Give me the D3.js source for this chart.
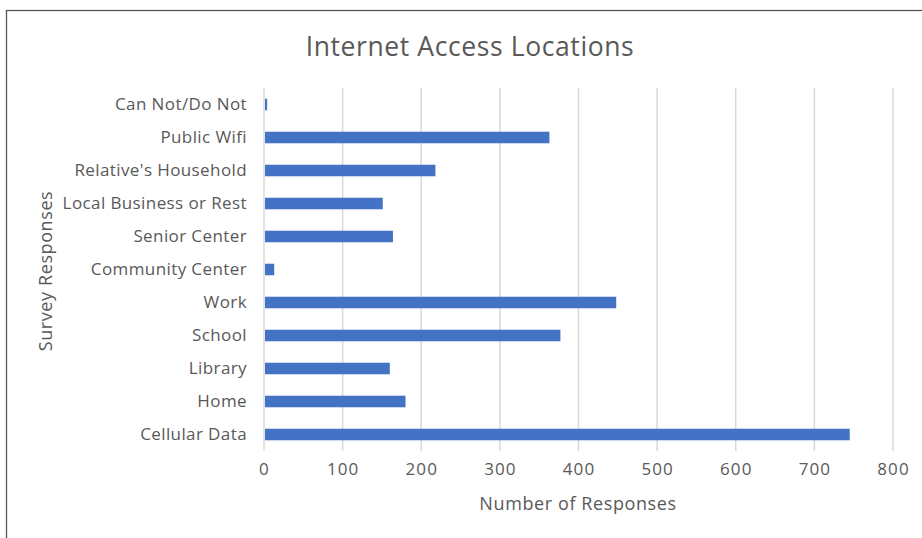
<!DOCTYPE html>
<html><head><meta charset="utf-8">
<script src="https://cdn.jsdelivr.net/npm/d3@7"></script>
<style>body{margin:0;background:#fff}svg{display:block}</style>
</head><body>
<svg id="c" width="922" height="538"></svg>
<script>
const categories = ["Can Not/Do Not","Public Wifi","Relative's Household","Local Business or Rest","Senior Center","Community Center","Work","School","Library","Home","Cellular Data"];
const values = [4,363,218,151,164,13,448,377,160,180,745];
const xTicks = [0,100,200,300,400,500,600,700,800];
const title = "Internet Access Locations";
const xTitle = "Number of Responses";
const yTitle = "Survey Responses";

const svg = d3.select("#c");
const font = "'Open Sans', sans-serif";
const textColor = "#595959";
svg.append("rect").attr("x",6.5).attr("y",10.5).attr("width",930).attr("height",540)
  .attr("fill","#fff").attr("stroke","#555").attr("stroke-width",1.3);

const x = d3.scaleLinear().domain([0,800]).range([264,893]);
const y = d3.scaleBand().domain(categories).range([88,451]).paddingInner(0.65).paddingOuter(0.325);

const g = svg.append("g");
g.selectAll("line.grid").data(xTicks).join("line").attr("class","grid")
  .attr("x1",d=>x(d)).attr("x2",d=>x(d)).attr("y1",88).attr("y2",451)
  .attr("stroke","#d9d9d9").attr("stroke-width",1.5);

g.selectAll("rect.bar").data(categories).join("rect").attr("class","bar")
  .attr("x",x(0)+1).attr("y",d=>y(d)).attr("height",y.bandwidth())
  .attr("width",(d,i)=>Math.max(0,x(values[i])-x(0)-1)).attr("fill","#4472c4");

const xAxis = d3.axisBottom(x).tickValues(xTicks).tickSize(0).tickPadding(12);
const xa = svg.append("g").attr("transform","translate(0,451)").call(xAxis);
xa.select(".domain").remove();
xa.selectAll("text").attr("font-family",font).attr("font-size",17).attr("letter-spacing",1.1).attr("fill",textColor);

const yAxis = d3.axisLeft(y).tickSize(0).tickPadding(17);
const ya = svg.append("g").attr("transform","translate(264,0)").call(yAxis);
ya.select(".domain").remove();
ya.selectAll("text").attr("font-family",font).attr("font-size",17).attr("letter-spacing",0.4).attr("fill",textColor);

svg.append("text").attr("x",470).attr("y",56).attr("text-anchor","middle")
  .attr("font-family",font).attr("font-size",26.5).attr("letter-spacing",0.6).attr("fill",textColor).text(title);
svg.append("text").attr("x",578).attr("y",510).attr("text-anchor","middle")
  .attr("font-family",font).attr("font-size",18).attr("letter-spacing",0.6).attr("fill",textColor).text(xTitle);
svg.append("text").attr("transform","translate(52,271) rotate(-90)").attr("text-anchor","middle")
  .attr("font-family",font).attr("font-size",18).attr("letter-spacing",0.6).attr("fill",textColor).text(yTitle);
</script>
</body></html>
